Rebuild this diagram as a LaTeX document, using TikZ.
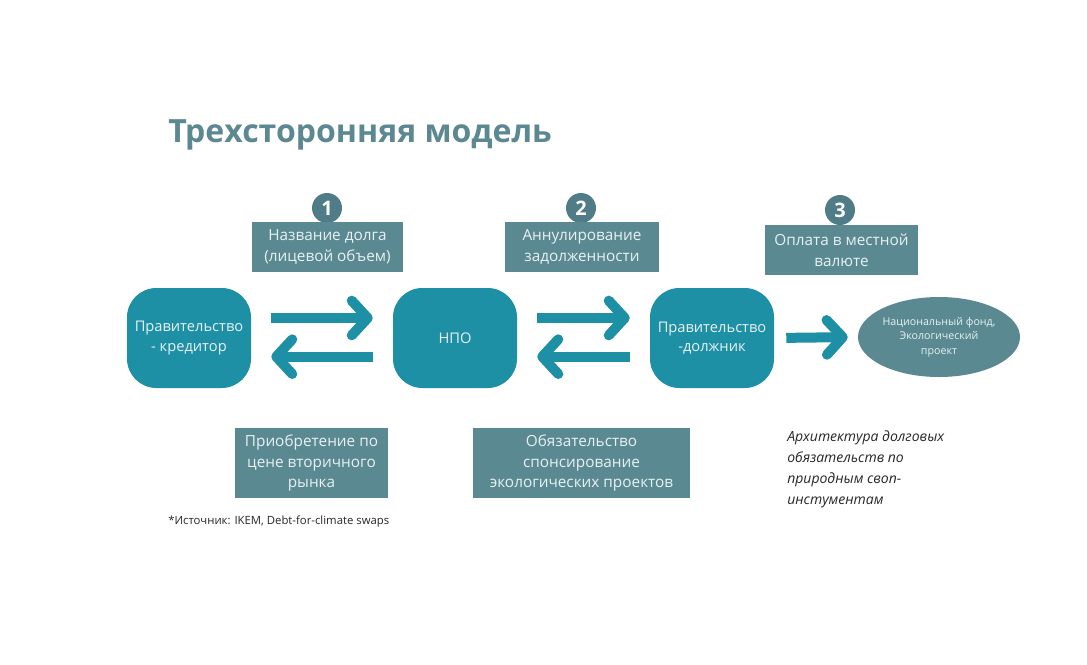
\documentclass[tikz,border=0pt]{standalone}
\usepackage{fontspec}
\setmainfont{Open Sans}
\usetikzlibrary{arrows.meta,shapes.geometric}

\definecolor{partycyan}{RGB}{30,144,166}
\definecolor{boxgray}{RGB}{90,137,146}
\definecolor{stepgray}{RGB}{79,124,135}
\definecolor{titlegray}{RGB}{92,136,146}
\definecolor{paletext}{RGB}{232,241,243}

\tikzset{
  party/.style={rounded corners=22pt, fill=partycyan, minimum width=93pt, minimum height=75pt, inner sep=0pt, align=center, text=paletext, font=\fontsize{11}{14.5}\selectfont},
  notebox/.style={fill=boxgray, inner sep=0pt, align=center, text=paletext, font=\fontsize{11.5}{15.5}\selectfont},
  stepnum/.style={circle, fill=stepgray, minimum size=22.5pt, inner sep=0pt, text=white, font=\bfseries\fontsize{15}{15}\selectfont},
  flow/.style={draw=partycyan, line width=7.5pt, -{Straight Barb[length=12pt,width=26pt,round]}, shorten <=15pt, shorten >=15pt}
}

\begin{document}
\begin{tikzpicture}[x=0.75pt,y=0.75pt,yscale=-1,xscale=1]
\useasboundingbox (0,0) rectangle (1087,664);

% Title
\node (title) [anchor=base west, inner sep=0pt, text=titlegray, font=\bfseries\fontsize{24}{28}\selectfont] at (168,142) {Трехсторонняя модель};

% Steps
\node (s1) [stepnum] at (327,208) {1};
\node (s2) [stepnum] at (581,208) {2};
\node (s3) [stepnum] at (840,210) {3};

% Upper boxes
\node (n1) [notebox, minimum width=113pt, minimum height=37.5pt] at (327.5,247) {Название долга\\(лицевой объем)};
\node (n2) [notebox, minimum width=115.5pt, minimum height=37.5pt] at (582,247) {Аннулирование\\задолженности};
\node (n3) [notebox, minimum width=115pt, minimum height=37.5pt] at (841.5,250) {Оплата в местной\\валюте};

% Parties
\node (creditor) [party] at (189,338) {Правительство\\- кредитор};
\node (ngo) [party] at (455,338) {НПО};
\node (debtor) [party] at (712,338) {Правительство\\-должник};
\node (fund) [ellipse, fill=boxgray, minimum width=121.5pt, minimum height=60pt, inner sep=-2pt, align=center, text=paletext, font=\fontsize{8}{11}\selectfont] at (939,337) {Национальный фонд,\\Экологический\\проект};

% Flows
\draw [flow] ([yshift=-15pt]creditor.east) -- ([yshift=-15pt]ngo.west);
\draw [flow] ([yshift=14pt]ngo.west) -- ([yshift=14pt]creditor.east);
\draw [flow] ([yshift=-15pt]ngo.east) -- ([yshift=-15pt]debtor.west);
\draw [flow] ([yshift=14pt]debtor.west) -- ([yshift=14pt]ngo.east);
\draw [flow, shorten <=9pt, shorten >=7.5pt] (debtor.east) -- (fund.west);

% Lower boxes
\node (n4) [notebox, minimum width=115pt, minimum height=52.5pt] at (311.5,463) {Приобретение по\\цене вторичного\\рынка};
\node (n5) [notebox, minimum width=163pt, minimum height=52.5pt] at (581.5,463) {Обязательство\\спонсирование\\экологических проектов};

% Text Node
\node (src) [anchor=west, inner sep=0pt, text=black!85, font=\fontsize{8.5}{10}\selectfont] at (168,522) {*Источник: IKEM, Debt-for-climate swaps};
% Text Node
\node (arch) [anchor=north west, inner sep=0pt, align=left, text=black!85, font=\itshape\fontsize{10.5}{15.75}\selectfont] at (787,430) {Архитектура долговых\\обязательств по\\природным своп-\\инстументам};

\end{tikzpicture}
\end{document}
